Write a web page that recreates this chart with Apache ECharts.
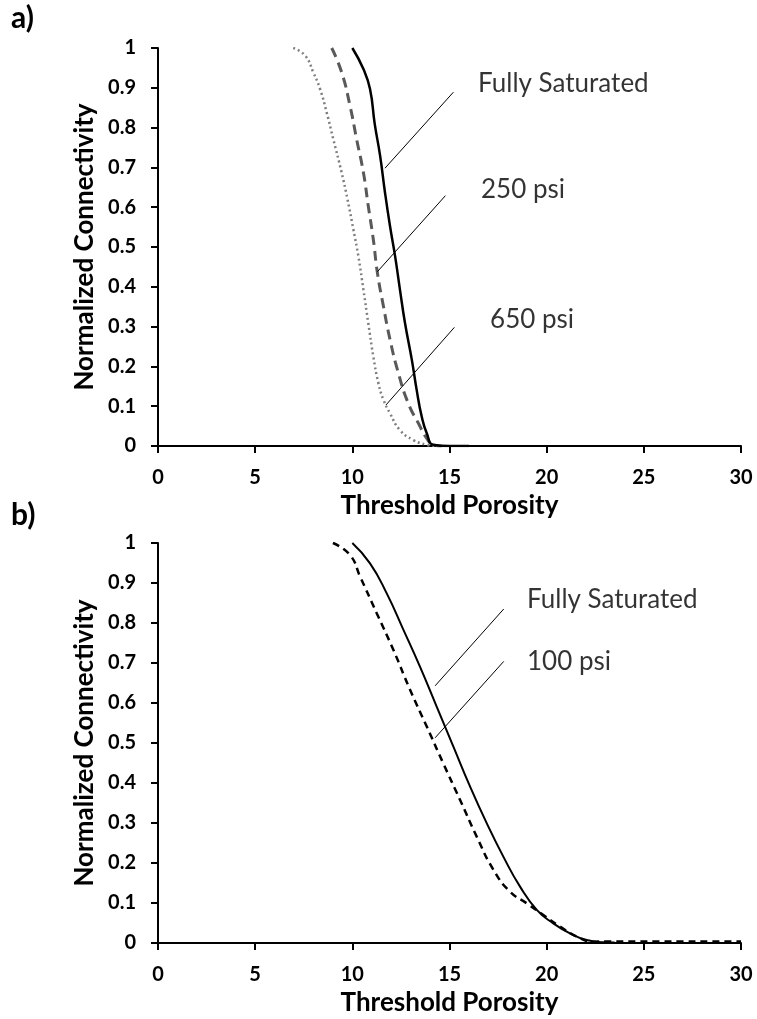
<!DOCTYPE html>
<html>
<head>
<meta charset="utf-8">
<script src="https://cdn.jsdelivr.net/npm/echarts@6/dist/echarts.min.js"></script>
<style>
html,body{margin:0;padding:0;background:#fff;}
#c{width:757px;height:1019px;}
</style>
</head>
<body>
<div id="c"></div>
<script>
// ---- Panel a) data: [Threshold Porosity, Normalized Connectivity]
var aFullySaturated = [[10,1],[10.57,0.947],[10.91,0.897],[11.15,0.81],[11.43,0.729],[11.68,0.637],[11.94,0.552],[12.2,0.477],[12.45,0.393],[12.71,0.309],[13.06,0.217],[13.31,0.141],[13.57,0.074],[13.83,0.032],[14.17,0.003],[15,0],[16,0]];
var a250psi = [[8.94,1],[9.45,0.939],[9.88,0.855],[10.22,0.771],[10.57,0.687],[10.82,0.603],[11.08,0.519],[11.29,0.435],[11.6,0.351],[11.94,0.267],[12.37,0.183],[12.88,0.107],[13.4,0.057],[13.83,0.019],[14.17,0.003],[14.6,0]];
var a650psi = [[6.96,1],[7.57,0.981],[7.99,0.939],[8.34,0.897],[8.68,0.838],[9.02,0.771],[9.45,0.687],[9.75,0.62],[10.05,0.545],[10.31,0.477],[10.57,0.393],[10.82,0.309],[11.08,0.225],[11.34,0.158],[11.6,0.116],[11.94,0.082],[12.45,0.04],[13.14,0.015],[13.83,0.003],[14.3,0]];
// ---- Panel b) data
var bFullySaturated = [[10,1],[10.91,0.949],[11.77,0.874],[12.63,0.783],[13.48,0.691],[14.34,0.591],[15.2,0.491],[16.06,0.391],[16.92,0.299],[17.77,0.216],[18.63,0.141],[19.49,0.083],[20.34,0.049],[21.2,0.024],[22.06,0.0075],[22.92,0.002],[23.5,0.001]];
var b100psi = [[9,1],[9.88,0.97],[10.4,0.916],[11.26,0.824],[12.11,0.733],[12.97,0.633],[13.83,0.541],[14.68,0.449],[15.54,0.358],[16.4,0.266],[17.26,0.183],[18.12,0.128],[18.98,0.099],[19.83,0.07],[20.69,0.041],[21.55,0.016],[22.4,0.003],[23,0.004],[30,0.004]];
// ---- Annotations (data coordinates)
var aLeaders = [[[11.68,0.698],[15.2,0.889]],[[11.29,0.438],[14.79,0.629]],[[11.73,0.103],[15.25,0.298]]];
var aLabels = [[16.47,0.91,'Fully Saturated'],[16.62,0.643,'250 psi'],[17.09,0.317,'650 psi']];
var bLeaders = [[[14.26,0.643],[17.79,0.835]],[[14.26,0.513],[17.79,0.704]]];
var bLabels = [[18.99,0.8575,'Fully Saturated'],[18.99,0.7025,'100 psi']];
var xTicks = [0,5,10,15,20,25,30];
var yTicks = [0,0.1,0.2,0.3,0.4,0.5,0.6,0.7,0.8,0.9,1];

var FONT = 'Lato, "Noto Sans", sans-serif';

function xAxisDef(i){
  return {type:'value',gridIndex:i,min:xTicks[0],max:xTicks[xTicks.length-1],interval:xTicks[1]-xTicks[0],
    name:'Threshold Porosity',nameLocation:'middle',nameGap:47,
    nameTextStyle:{fontFamily:FONT,fontWeight:'bold',fontSize:26,color:'#000'},
    axisLine:{show:true,lineStyle:{color:'#000',width:2}},
    axisTick:{show:true,length:7,lineStyle:{color:'#000',width:2}},
    axisLabel:{fontFamily:FONT,fontWeight:'bold',fontSize:20,color:'#000',margin:22},
    splitLine:{show:false}};
}
function yAxisDef(i){
  return {type:'value',gridIndex:i,min:yTicks[0],max:yTicks[yTicks.length-1],interval:0.1,
    name:'Normalized Connectivity',nameLocation:'middle',nameGap:60,
    nameTextStyle:{fontFamily:FONT,fontWeight:'bold',fontSize:26,color:'#000'},
    axisLine:{show:true,lineStyle:{color:'#000',width:2}},
    axisTick:{show:true,length:7,lineStyle:{color:'#000',width:2}},
    axisLabel:{fontFamily:FONT,fontWeight:'bold',fontSize:20,color:'#000',margin:22,
      formatter:function(v){return String(Math.round(v*10)/10);}},
    splitLine:{show:false}};
}
function lineSeries(data,i,color,width,type){
  return {type:'line',xAxisIndex:i,yAxisIndex:i,data:data,showSymbol:false,symbol:'none',smooth:0.5,
    lineStyle:{color:color,width:width,type:type},z:3};
}
var series = [];
series.push(lineSeries(a650psi,0,'#7f7f7f',2.5,[2,3]));
series.push(lineSeries(a250psi,0,'#595959',3,[10,6]));
series.push(lineSeries(aFullySaturated,0,'#000',2.5,'solid'));
series.push(lineSeries(b100psi,1,'#000',2.5,[7,5]));
series.push(lineSeries(bFullySaturated,1,'#000',2,'solid'));
aLeaders.forEach(function(l){series.push({type:'line',xAxisIndex:0,yAxisIndex:0,data:l,symbol:'none',lineStyle:{color:'#000',width:1},z:4});});
bLeaders.forEach(function(l){series.push({type:'line',xAxisIndex:1,yAxisIndex:1,data:l,symbol:'none',lineStyle:{color:'#000',width:1},z:4});});
function labelSeries(list,i){
  return {type:'scatter',xAxisIndex:i,yAxisIndex:i,symbolSize:0,
    data:list.map(function(d){return {value:[d[0],d[1]],name:d[2]};}),
    label:{show:true,position:'right',distance:0,formatter:'{b}',fontFamily:FONT,fontSize:26,color:'#000'},z:5};
}
series.push(labelSeries(aLabels,0));
series.push(labelSeries(bLabels,1));

var chart = echarts.init(document.getElementById('c'),null,{renderer:'canvas'});
chart.setOption({
  animation:false,
  backgroundColor:'#fff',
  grid:[{left:158,top:48,width:583,height:398},{left:158,top:543,width:583,height:400}],
  xAxis:[xAxisDef(0),xAxisDef(1)],
  yAxis:[yAxisDef(0),yAxisDef(1)],
  graphic:[
    {type:'text',left:11,top:3,style:{text:'a)',fontFamily:FONT,fontWeight:'bold',fontSize:30,fill:'#000'}},
    {type:'text',left:11,top:500,style:{text:'b)',fontFamily:FONT,fontWeight:'bold',fontSize:30,fill:'#000'}}
  ],
  series:series
});
</script>
</body>
</html>
